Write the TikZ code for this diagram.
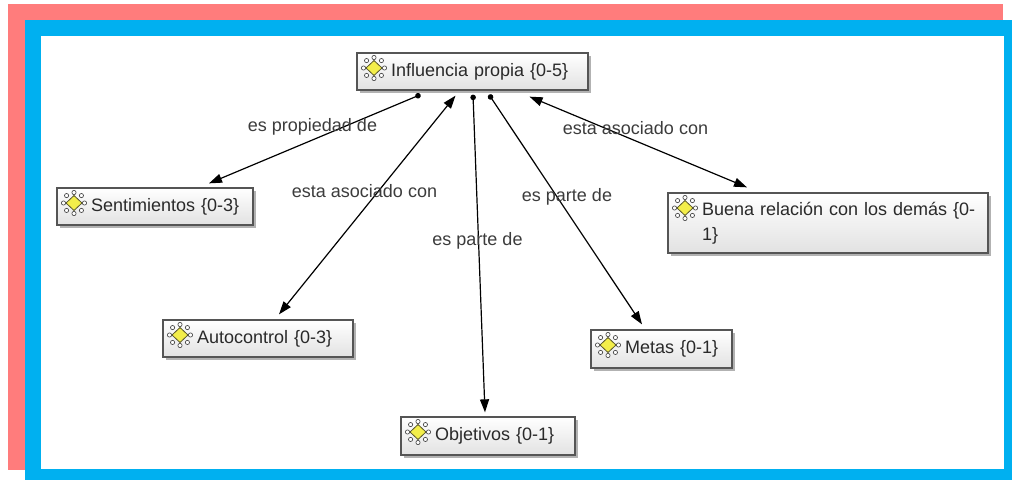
\documentclass[tikz,border=0pt]{standalone}
\usepackage{fontspec}
\setmainfont{Liberation Sans}
\usetikzlibrary{arrows.meta,shadows}
\definecolor{frameblue}{HTML}{00B0F0}
\definecolor{framered}{HTML}{FF7C7C}
\definecolor{boxline}{HTML}{555555}
\definecolor{boxbottom}{HTML}{E2E2E2}
\definecolor{icony}{HTML}{F3EE4A}
\definecolor{txt}{HTML}{2A2A2A}
\definecolor{lbl}{HTML}{3C3C3C}
\tikzset{
  codeicon/.pic={
    \foreach \a in {0,45,...,315}
      \draw[gray!60!black, line width=0.7pt, fill=white] (\a:10.5) circle (2.1);
    \draw[fill=icony, draw=olive!50!black, line width=0.8pt]
      (0,-7.5) -- (8,0) -- (0,7.5) -- (-8,0) -- cycle;
  },
  concept/.style={draw=boxline, line width=1.3pt, top color=white, bottom color=boxbottom,
    text=txt, text width=#1pt-8pt, align=left, inner xsep=4pt, inner ysep=3pt,
    minimum height=37pt, font=\fontsize{18}{25}\selectfont,
    execute at begin node={\leftskip=30pt},
    general shadow={shadow xshift=3pt, shadow yshift=-3pt, fill=black, opacity=0.3},
    path picture={\pic at ([shift={(17,15)}]path picture bounding box.north west) {codeicon};}},
  rel/.style={text=lbl, font=\fontsize{18}{22}\selectfont, inner sep=0pt},
  link/.style={line width=1.2pt, draw=black},
  dotarrow/.style={link, {Circle[length=5.5pt]}-{Triangle[length=13pt,width=9pt]}},
  bothways/.style={link, {Triangle[length=13pt,width=9pt]}-{Triangle[length=13pt,width=9pt]}}
}
\begin{document}
\begin{tikzpicture}[x=1pt,y=-1pt]
  \useasboundingbox (0,0) rectangle (1012,480);
  % frames
  \fill[framered] (8,4) rectangle (1003,470);
  \fill[frameblue] (25,20) rectangle (1012,480);
  \fill[white] (41,36) rectangle (1004,469);

  % concepts
  \node[concept=231] (inf) at (472.5,71.5) {Influencia propia {\{}0-5{\}}};
  \node[concept=196] (sen) at (155,206.5) {Sentimientos {\{}0-3{\}}};
  \node[concept=190] (aut) at (258,338.5) {Autocontrol {\{}0-3{\}}};
  \node[concept=174, minimum height=38pt] (obj) at (488,436) {Objetivos {\{}0-1{\}}};
  \node[concept=141, minimum height=38pt] (met) at (661.5,349) {Metas {\{}0-1{\}}};
  \node[concept=320, minimum height=60pt] (bue) at (828,223) {Buena relación con los demás {\{}0-\\1{\}}};

  % connectors
  \draw[dotarrow] ([shift={(-52,4)}]inf.south) -- ([shift={(54,-4)}]sen.north);
  \draw[bothways] ([shift={(21,-5)}]aut.north) -- ([shift={(-17,5)}]inf.south);
  \draw[dotarrow] ([shift={(0.5,4)}]inf.south) -- ([shift={(-3,-4)}]obj.north);
  \draw[dotarrow] ([shift={(16.5,4)}]inf.south) -- ([shift={(-19.5,-5)}]met.north);
  \draw[bothways] ([shift={(57,6)}]inf.south) -- ([shift={(-81,-5)}]bue.north);

  % relation labels
  \node[rel] (l1) at (312.5,127) {es propiedad de};
  \node[rel] (l2) at (364.5,191) {esta asociado con};
  \node[rel] (l3) at (477.5,241) {es parte de};
  \node[rel] (l4) at (567,197) {es parte de};
  \node[rel] (l5) at (635.5,128) {esta asociado con};
\end{tikzpicture}
\end{document}
